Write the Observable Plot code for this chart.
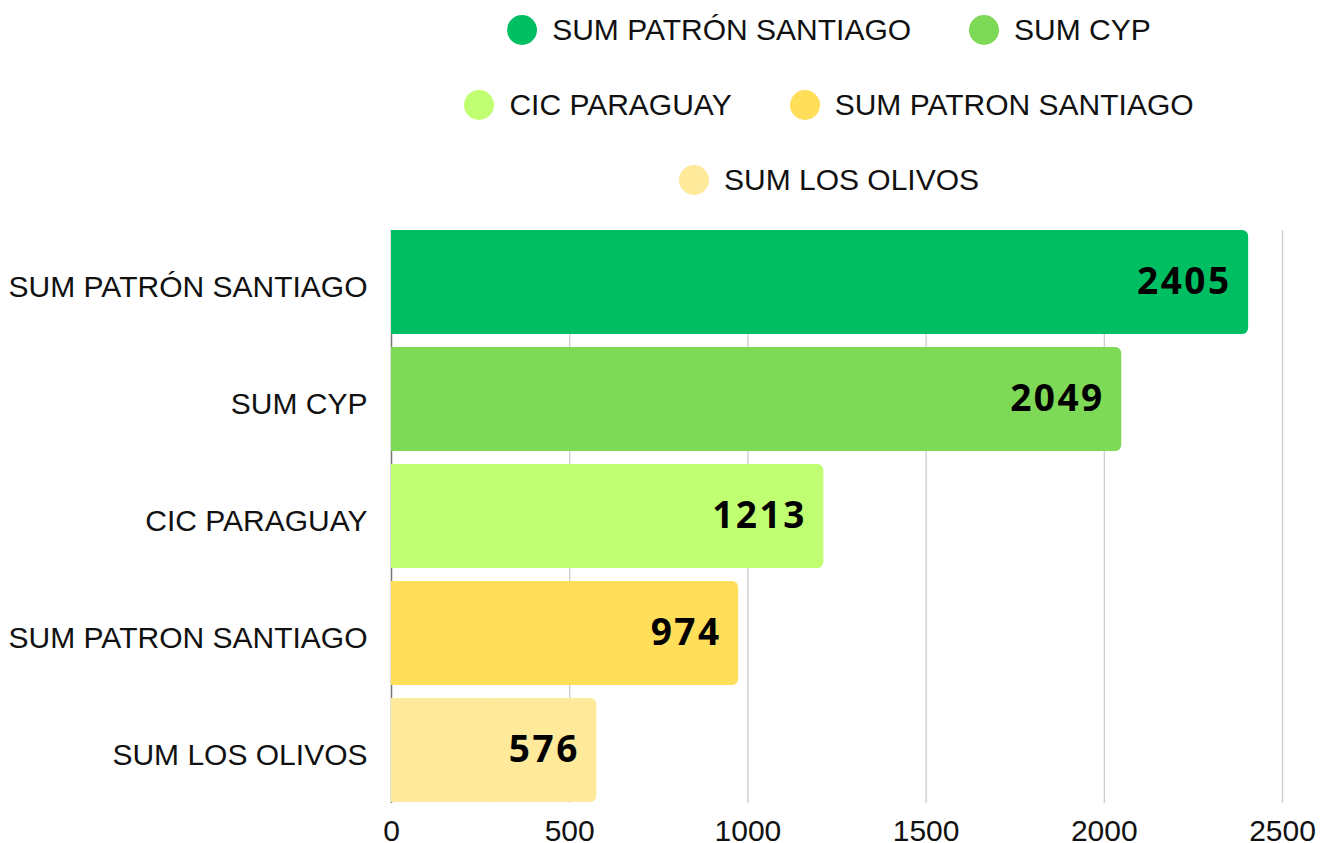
<!DOCTYPE html>
<html>
<head>
<meta charset="utf-8">
<script src="https://cdn.jsdelivr.net/npm/d3@7"></script>
<script src="https://cdn.jsdelivr.net/npm/@observablehq/plot@0.6"></script>
<style>
  html, body { margin: 0; padding: 0; background: #fff; }
  #wrap { position: relative; width: 1326px; height: 843px; overflow: hidden; }
  #legend { position: absolute; left: 0; top: -8px; width: 1326px; box-sizing: border-box; padding-left: 332px;
            font-family: "Liberation Sans", Arial, sans-serif; font-size: 30px; color: #111; }
  .row { display: flex; justify-content: center; align-items: center; height: 75px; gap: 58px; }
  .item { display: flex; align-items: center; white-space: nowrap; }
  .dot { width: 30px; height: 30px; border-radius: 50%; margin-right: 15px; flex: none; }
  #chart { position: absolute; left: 0; top: 210px; }
</style>
</head>
<body>
<div id="wrap">
  <div id="legend"></div>
  <div id="chart"></div>
</div>
<script>
const categories = ["SUM PATRÓN SANTIAGO", "SUM CYP", "CIC PARAGUAY", "SUM PATRON SANTIAGO", "SUM LOS OLIVOS"];
const values = [2405, 2049, 1213, 974, 576];
const colors = ["#00BF63", "#7ED957", "#C1FF72", "#FFDE59", "#FFE99A"];
const xTicks = [0, 500, 1000, 1500, 2000, 2500];
const legendRows = [[0, 1], [2, 3], [4]];

const data = categories.map((c, i) => ({category: c, value: values[i]}));

// Legend
const legend = document.getElementById("legend");
for (const row of legendRows) {
  const r = document.createElement("div");
  r.className = "row";
  for (const i of row) {
    const it = document.createElement("div");
    it.className = "item";
    const dot = document.createElement("span");
    dot.className = "dot";
    dot.style.background = colors[i];
    const t = document.createElement("span");
    t.textContent = categories[i];
    it.appendChild(dot);
    it.appendChild(t);
    r.appendChild(it);
  }
  legend.appendChild(r);
}

const chart = Plot.plot({
  width: 1326,
  height: 633,
  marginTop: 20,
  marginBottom: 40,
  marginLeft: 391,
  marginRight: 44,
  style: {fontFamily: "'Liberation Sans', Arial, sans-serif", fontSize: "30px", color: "#111", background: "#fff", overflow: "visible"},
  x: {domain: [0, 2500], label: null},
  y: {domain: categories, label: null, padding: 0.11, paddingOuter: 0},
  color: {domain: categories, range: colors},
  marks: [
    Plot.ruleX(xTicks.filter(t => t > 0), {stroke: "#c8c8c8", strokeWidth: 1.2}),
    Plot.ruleX([0], {stroke: "#777", strokeWidth: 1.5}),
    Plot.barX(data, {y: "category", x: "value", fill: "category", rx: 6}),
    Plot.barX(data, {y: "category", x1: 0, x2: d => d.value / 2, fill: "category"}),
    Plot.text(data, {
      y: "category", x: "value", text: d => String(d.value),
      textAnchor: "end", dx: -17,
      fontFamily: "'Open Sans', 'Noto Sans', sans-serif", fontWeight: "bold", fontSize: 37,
      fill: "#000"
    }),
    Plot.axisY({tickSize: 0, tickPadding: 24, dy: 5, label: null}),
    Plot.axisX({ticks: xTicks, tickFormat: d => String(d), tickSize: 0, tickPadding: 16, label: null})
  ]
});
document.getElementById("chart").appendChild(chart);
chart.querySelectorAll("g[aria-label='text'] text").forEach(t => t.style.letterSpacing = "2.5px");
</script>
</body>
</html>
